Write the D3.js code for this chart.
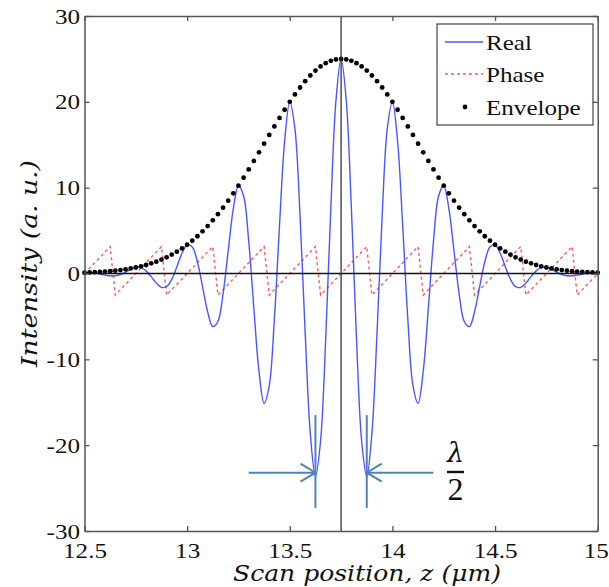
<!DOCTYPE html>
<html><head><meta charset="utf-8">
<script src="https://cdn.jsdelivr.net/npm/d3@7"></script>
<style>body{margin:0;background:#fff} .tick text{font-family:'Liberation Serif','Times New Roman',serif !important;}</style>
</head><body><svg id="chart" width="609" height="587"></svg>
<script>
// ---- data ----
const zPositions = [
12.5,12.525,12.55,12.575,12.6,12.625,12.65,12.675,12.7,12.725,
12.75,12.775,12.8,12.825,12.85,12.875,12.9,12.925,12.95,12.975,
13,13.025,13.05,13.075,13.1,13.125,13.15,13.175,13.2,13.225,
13.25,13.275,13.3,13.325,13.35,13.375,13.4,13.425,13.45,13.475,
13.5,13.525,13.55,13.575,13.6,13.625,13.65,13.675,13.7,13.725,
13.75,
13.775,13.8,13.825,13.85,13.875,13.9,13.925,13.95,13.975,14,
14.025,14.05,14.075,14.1,14.125,14.15,14.175,14.2,14.225,14.25,
14.275,14.3,14.325,14.35,14.375,14.4,14.425,14.45,14.475,14.5,
14.525,14.55,14.575,14.6,14.625,14.65,14.675,14.7,14.725,14.75,
14.775,14.8,14.825,14.85,14.875,14.9,14.925,14.95,14.975,15];

const realValues = [
0.09,0.10,0.05,-0.06,-0.18,-0.27,-0.27,-0.12,0.15,0.48,
0.70,0.68,0.31,-0.36,-1.12,-1.62,-1.53,-0.68,0.78,2.36,
3.35,3.09,1.34,-1.52,-4.47,-6.19,-5.59,-2.37,2.62,7.56,
10.23,9.03,3.75,-4.05,-11.42,-15.12,-13.06,-5.30,5.60,15.44,
20.00,16.88,6.70,-6.92,-18.66,-23.64,-19.51,-7.57,7.66,20.18,
25.00,
20.18,7.66,-7.57,-19.51,-23.64,-18.66,-6.92,6.70,16.88,20.00,
15.44,5.60,-5.30,-13.06,-15.12,-11.42,-4.05,3.75,9.03,10.23,
7.56,2.62,-2.37,-5.59,-6.19,-4.47,-1.52,1.34,3.09,3.35,
2.36,0.78,-0.68,-1.53,-1.62,-1.12,-0.36,0.31,0.68,0.70,
0.48,0.15,-0.12,-0.27,-0.27,-0.18,-0.06,0.05,0.10,0.09];

const phaseValues = [
0,0.63,1.26,1.88,2.51,3.14,-2.51,-1.88,-1.26,-0.63,
0,0.63,1.26,1.88,2.51,3.14,-2.51,-1.88,-1.26,-0.63,
0,0.63,1.26,1.88,2.51,3.14,-2.51,-1.88,-1.26,-0.63,
0,0.63,1.26,1.88,2.51,3.14,-2.51,-1.88,-1.26,-0.63,
0,0.63,1.26,1.88,2.51,3.14,-2.51,-1.88,-1.26,-0.63,
0,0.63,1.26,1.88,2.51,3.14,-2.51,-1.88,-1.26,-0.63,
0,0.63,1.26,1.88,2.51,3.14,-2.51,-1.88,-1.26,-0.63,
0,0.63,1.26,1.88,2.51,3.14,-2.51,-1.88,-1.26,-0.63,
0,0.63,1.26,1.88,2.51,3.14,-2.51,-1.88,-1.26,-0.63,
0,0.63,1.26,1.88,2.51,3.14,-2.51,-1.88,-1.26,-0.63,
0];

const envelopeValues = [
0.09,0.12,0.15,0.18,0.22,0.27,0.33,0.40,0.49,0.59,
0.70,0.84,0.99,1.18,1.38,1.62,1.89,2.20,2.54,2.92,
3.35,3.82,4.34,4.91,5.52,6.19,6.91,7.67,8.48,9.34,
10.23,11.16,12.13,13.11,14.12,15.12,16.14,17.14,18.13,19.08,
20.00,20.86,21.67,22.41,23.07,23.64,24.12,24.50,24.78,24.94,
25.00,
24.94,24.78,24.50,24.12,23.64,23.07,22.41,21.67,20.86,20.00,
19.08,18.13,17.14,16.14,15.12,14.12,13.11,12.13,11.16,10.23,
9.34,8.48,7.67,6.91,6.19,5.52,4.91,4.34,3.82,3.35,
2.92,2.54,2.20,1.89,1.62,1.38,1.18,0.99,0.84,0.70,
0.59,0.49,0.40,0.33,0.27,0.22,0.18,0.15,0.12,0.09];

const seriesNames = ["Real","Phase","Envelope"];
const xTickValues = [12.5,13,13.5,14,14.5,15];
const xTickLabels = ["12.5","13","13.5","14","14.5","15"];
const yTickValues = [-30,-20,-10,0,10,20,30];
const yTickLabels = ["-30","-20","-10","0","10","20","30"];
const markerZ = [13.625, 13.875];   // λ/2 markers (troughs)
const centerZ = 13.75;

// ---- layout ----
const W = 609, H = 587;
const m = {left: 84.5, right: 11.3, top: 16, bottom: 56};
const svg = d3.select("#chart");
const x = d3.scaleLinear().domain([12.5, 15]).range([m.left, W - m.right]);
const y = d3.scaleLinear().domain([-30, 30]).range([H - m.bottom, m.top]);
const serif = "'Liberation Serif','Times New Roman',serif";
const STRETCH = 1.14;

const pts = zPositions.map((z, i) => ({z, r: realValues[i], p: phaseValues[i], e: envelopeValues[i]}));

// series
svg.append("path").datum(pts)
  .attr("fill", "none").attr("stroke", "#ff5a5a").attr("stroke-width", 1.4)
  .attr("stroke-dasharray", "3,3")
  .attr("d", d3.line().x(d => x(d.z)).y(d => y(d.p)));

svg.append("path").datum(pts)
  .attr("fill", "none").attr("stroke", "#4a55ff").attr("stroke-width", 1.4)
  .attr("stroke-linejoin", "round")
  .attr("d", d3.line().curve(d3.curveCatmullRom.alpha(0.5)).x(d => x(d.z)).y(d => y(d.r)));

svg.append("g").selectAll("circle").data(pts).join("circle")
  .attr("cx", d => x(d.z)).attr("cy", d => y(d.e)).attr("r", 2.4).attr("fill", "#000");

// zero line and centre line
svg.append("line").attr("x1", x(12.5)).attr("x2", x(15)).attr("y1", y(0)).attr("y2", y(0))
  .attr("stroke", "#111").attr("stroke-width", 1.3);
svg.append("line").attr("x1", x(centerZ)).attr("x2", x(centerZ)).attr("y1", y(30)).attr("y2", y(-30))
  .attr("stroke", "#333").attr("stroke-width", 1.3);

// axes
const axisColor = "#555";
function styleAxis(g) {
  g.attr("font-family", serif);
  g.select(".domain").attr("stroke", axisColor).attr("stroke-width", 1.5);
  g.selectAll(".tick line").attr("stroke", axisColor).attr("stroke-width", 1.3);
}
const gx = svg.append("g").attr("transform", `translate(0,${y(-30)})`)
  .call(d3.axisBottom(x).tickValues(xTickValues).tickFormat((d, i) => xTickLabels[i])
    .tickSizeInner(-5).tickSizeOuter(0).tickPadding(11));
styleAxis(gx);
gx.selectAll("text").style("font-family", serif).attr("font-size", 22).attr("fill", "#111")
  .attr("x", 0).attr("transform", `scale(${STRETCH},1)`);
gx.selectAll(".tick").filter(d => d === 15).select("text").attr("transform", `translate(-2,0) scale(${STRETCH},1)`);

const gy = svg.append("g").attr("transform", `translate(${x(12.5)},0)`)
  .call(d3.axisLeft(y).tickValues(yTickValues).tickFormat((d, i) => yTickLabels[i])
    .tickSizeInner(-5).tickSizeOuter(0).tickPadding(5));
styleAxis(gy);
gy.selectAll("text").style("font-family", serif).attr("font-size", 22).attr("fill", "#111")
  .attr("x", 0).attr("transform", `translate(-4.5,0) scale(${STRETCH},1)`);

const gt = svg.append("g").attr("transform", `translate(0,${y(30)})`)
  .call(d3.axisTop(x).tickValues(xTickValues).tickFormat("").tickSizeInner(-5).tickSizeOuter(0));
styleAxis(gt);
const gr = svg.append("g").attr("transform", `translate(${x(15)},0)`)
  .call(d3.axisRight(y).tickValues(yTickValues).tickFormat("").tickSizeInner(-5).tickSizeOuter(0));
styleAxis(gr);

// axis titles
const mathFont = "'DejaVu Serif',serif";
svg.append("text").attr("x", 367).attr("y", 581).attr("text-anchor", "middle")
  .attr("font-family", mathFont).attr("font-style", "italic").attr("font-size", 22)
  .attr("fill", "#111").attr("textLength", 268).attr("lengthAdjust", "spacingAndGlyphs")
  .text("Scan position, z (μm)");
svg.append("text").attr("transform", "translate(37,263.5) rotate(-90)").attr("text-anchor", "middle")
  .attr("font-family", mathFont).attr("font-style", "italic").attr("font-size", 23)
  .attr("fill", "#111").attr("textLength", 207).attr("lengthAdjust", "spacingAndGlyphs")
  .text("Intensity (a. u.)");

// λ/2 markers
const ann = "#4f81bd";
const arrowY = y(-23.2);
const g2 = svg.append("g").attr("stroke", ann).attr("stroke-width", 2).attr("fill", "none");
markerZ.forEach(z => {
  g2.append("line").attr("x1", x(z)).attr("x2", x(z)).attr("y1", y(-16.5)).attr("y2", y(-27.3));
});
[[13.30, markerZ[0], 1], [14.20, markerZ[1], -1]].forEach(([from, to, dir]) => {
  const tx = x(to);
  g2.append("line").attr("x1", x(from)).attr("x2", tx).attr("y1", arrowY).attr("y2", arrowY);
  g2.append("polyline").attr("points",
    `${tx - dir * 15},${arrowY - 9} ${tx},${arrowY} ${tx - dir * 15},${arrowY + 9}`);
});
svg.append("text").attr("x", 455.5).attr("y", 462).attr("text-anchor", "middle")
  .attr("font-family", mathFont).attr("font-style", "italic").attr("font-size", 27)
  .attr("fill", "#111").text("λ");
svg.append("line").attr("x1", 447).attr("x2", 464).attr("y1", 472).attr("y2", 472)
  .attr("stroke", "#111").attr("stroke-width", 2.4);
svg.append("text").attr("x", 455.5).attr("y", 500).attr("text-anchor", "middle")
  .attr("font-family", serif).attr("font-size", 32).attr("fill", "#111").text("2");

// legend
const lg = svg.append("g");
lg.append("rect").attr("x", 437).attr("y", 24).attr("width", 156).attr("height", 101)
  .attr("fill", "#fff").attr("stroke", "#444").attr("stroke-width", 1.2);
const rows = [42, 74, 107];
lg.append("line").attr("x1", 445).attr("x2", 483).attr("y1", rows[0]).attr("y2", rows[0])
  .attr("stroke", "#4a55ff").attr("stroke-width", 1.4);
lg.append("line").attr("x1", 445).attr("x2", 483).attr("y1", rows[1]).attr("y2", rows[1])
  .attr("stroke", "#ff5a5a").attr("stroke-width", 1.4).attr("stroke-dasharray", "3,3");
lg.append("circle").attr("cx", 465).attr("cy", rows[2]).attr("r", 2.4).attr("fill", "#000");
seriesNames.forEach((name, i) => {
  lg.append("text").attr("transform", `translate(486,${rows[i] + 8}) scale(${STRETCH},1)`)
    .attr("font-family", serif).attr("font-size", 22).attr("fill", "#111").text(name);
});
</script></body></html>
